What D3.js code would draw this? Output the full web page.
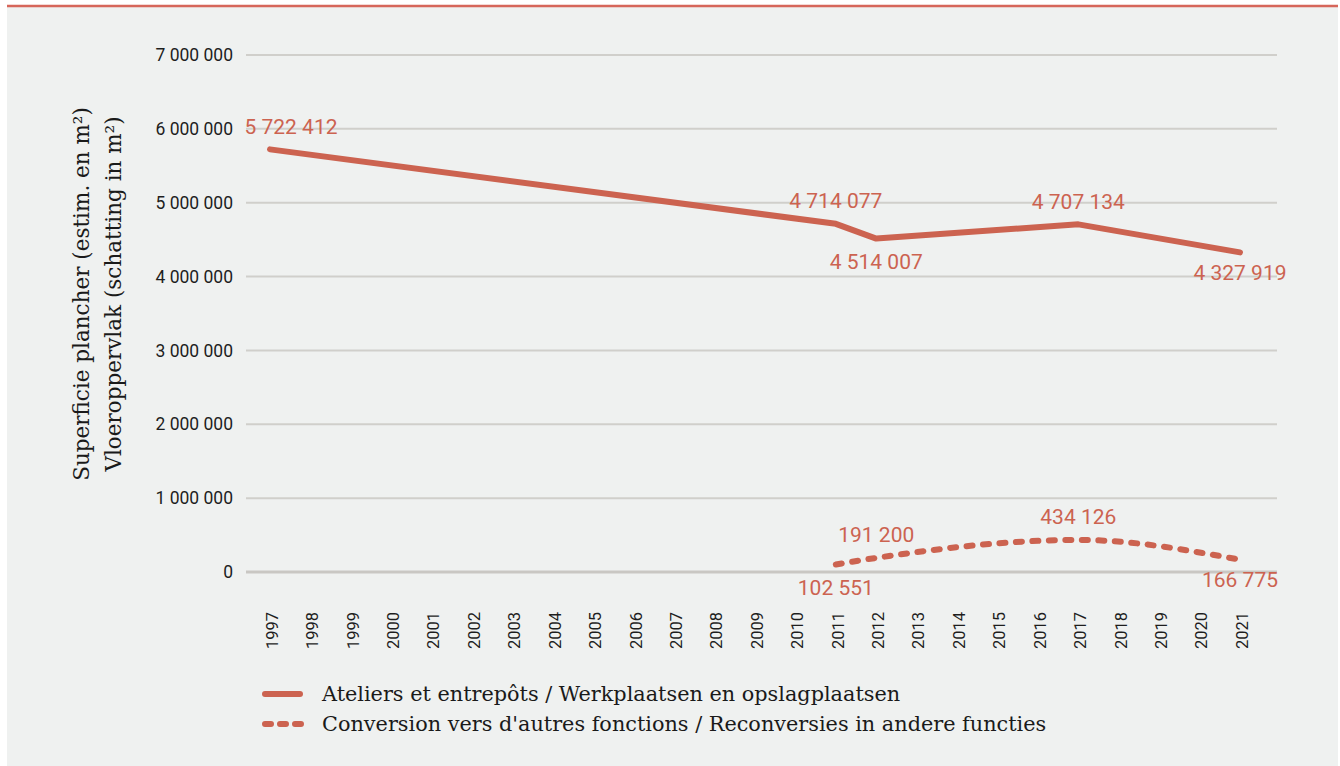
<!DOCTYPE html>
<html>
<head>
<meta charset="utf-8">
<script src="https://cdn.jsdelivr.net/npm/d3@7"></script>
<style>
  body { margin: 0; background: #fff; }
  svg { display: block; }
</style>
</head>
<body>
<script>

// DATA
var years = d3.range(1997, 2022);
var ateliers = {1997: 5722412, 2011: 4714077, 2012: 4514007, 2017: 4707134, 2021: 4327919};
var conversion = {2011: 102551, 2012: 191200, 2017: 434126, 2021: 166775};
var yTicks = [0, 1000000, 2000000, 3000000, 4000000, 5000000, 6000000, 7000000];
var seriesNames = ["Ateliers et entrepôts / Werkplaatsen en opslagplaatsen",
                   "Conversion vers d'autres fonctions / Reconversies in andere functies"];
var axisTitle = ["Superficie plancher (estim. en m²)", "Vloeroppervlak (schatting in m²)"];

// label placement: above (-1) or below (+1) the point
var ateliersSide = {1997: -1, 2011: -1, 2012: 1, 2017: -1, 2021: 1};
var conversionSide = {2011: 1, 2012: -1, 2017: -1, 2021: 1};

var width = 1340, height = 766;
var red = "#cc6350";
var serif = "'DejaVu Serif', serif";
var sans = "Roboto, 'Liberation Sans', sans-serif";

var svg = d3.select("body").append("svg").attr("width", width).attr("height", height);

// panel
svg.append("rect").attr("x", 7).attr("y", 5).attr("width", 1331).attr("height", 761).attr("fill", "#eff1f0");
svg.append("line").attr("x1", 7).attr("x2", 1338).attr("y1", 6).attr("y2", 6)
    .attr("stroke", "#d6665a").attr("stroke-width", 2.5);

// SCALES
var xScale = d3.scalePoint().domain(years).range([270, 1240]);
var yScale = d3.scaleLinear().domain([0, 7000000]).range([572, 55]);
var gridLeft = 246, gridRight = 1277;

var fmt = function(v){ return d3.format(",")(v).replace(/,/g, " "); };

// GRID + Y LABELS
var grid = svg.append("g");
grid.selectAll("line").data(yTicks).enter().append("line")
    .attr("x1", gridLeft).attr("x2", gridRight)
    .attr("y1", function(d){ return yScale(d); })
    .attr("y2", function(d){ return yScale(d); })
    .attr("stroke", function(d){ return d === 0 ? "#c9c7c3" : "#d0cfcb"; })
    .attr("stroke-width", function(d){ return d === 0 ? 3 : 2; });

grid.selectAll("text").data(yTicks).enter().append("text")
    .attr("x", 233)
    .attr("y", function(d){ return yScale(d); })
    .attr("dy", "0.35em")
    .attr("text-anchor", "end")
    .attr("font-family", sans).attr("font-size", 17.5).attr("fill", "#1e1e1e")
    .text(fmt);

// X LABELS
svg.append("g").selectAll("text").data(years).enter().append("text")
    .attr("transform", function(d){ return "translate(" + (xScale(d) + 2) + ",612) rotate(-90)"; })
    .attr("dy", "0.35em")
    .attr("text-anchor", "end")
    .attr("font-family", sans).attr("font-size", 16.5).attr("fill", "#1e1e1e")
    .text(function(d){ return d; });

// AXIS TITLE
var title = svg.append("text")
    .attr("transform", "translate(0,294) rotate(-90)")
    .attr("text-anchor", "middle")
    .attr("font-family", serif).attr("font-size", 21.5).attr("fill", "#1a1a1a");
title.append("tspan").attr("x", 0).attr("y", 89).text(axisTitle[0]);
title.append("tspan").attr("x", 0).attr("y", 121).text(axisTitle[1]);

// LINES
function points(obj){
    return years.filter(function(y){ return obj[y] != null; })
        .map(function(y){ return {year: y, value: obj[y]}; });
}
var solidPts = points(ateliers);
var dotPts = points(conversion);

var line = d3.line()
    .x(function(d){ return xScale(d.year); })
    .y(function(d){ return yScale(d.value); });

svg.append("path").attr("d", line(solidPts))
    .attr("fill", "none").attr("stroke", red).attr("stroke-width", 6)
    .attr("stroke-linecap", "round").attr("stroke-linejoin", "round");

svg.append("path").attr("d", line.curve(d3.curveMonotoneX)(dotPts))
    .attr("fill", "none").attr("stroke", red).attr("stroke-width", 6)
    .attr("stroke-linecap", "round").attr("stroke-dasharray", "6 10.5");

// DATA LABELS
function labels(pts, side){
    svg.append("g").selectAll("text").data(pts).enter().append("text")
        .attr("x", function(d){ return xScale(d.year) + (d.year === 1997 ? 21 : 0); })
        .attr("y", function(d){ return yScale(d.value) + side[d.year] * (d.year === 2021 ? 20 : 23); })
        .attr("dy", "0.35em")
        .attr("text-anchor", "middle")
        .attr("font-family", sans).attr("font-size", 21).attr("fill", red)
        .text(function(d){ return fmt(d.value); });
}
labels(solidPts, ateliersSide);
labels(dotPts, conversionSide);

// LEGEND
var legend = svg.append("g");
legend.append("line").attr("x1", 265).attr("x2", 300).attr("y1", 694).attr("y2", 694)
    .attr("stroke", red).attr("stroke-width", 6).attr("stroke-linecap", "round");
legend.append("line").attr("x1", 265).attr("x2", 301).attr("y1", 724).attr("y2", 724)
    .attr("stroke", red).attr("stroke-width", 6).attr("stroke-linecap", "round")
    .attr("stroke-dasharray", "6 9");
legend.selectAll("text").data(seriesNames).enter().append("text")
    .attr("x", 322)
    .attr("y", function(d, i){ return 694 + i * 30; })
    .attr("dy", "0.35em")
    .attr("font-family", serif).attr("font-size", 20.8).attr("fill", "#1a1a1a")
    .text(function(d){ return d; });

</script>
</body>
</html>
